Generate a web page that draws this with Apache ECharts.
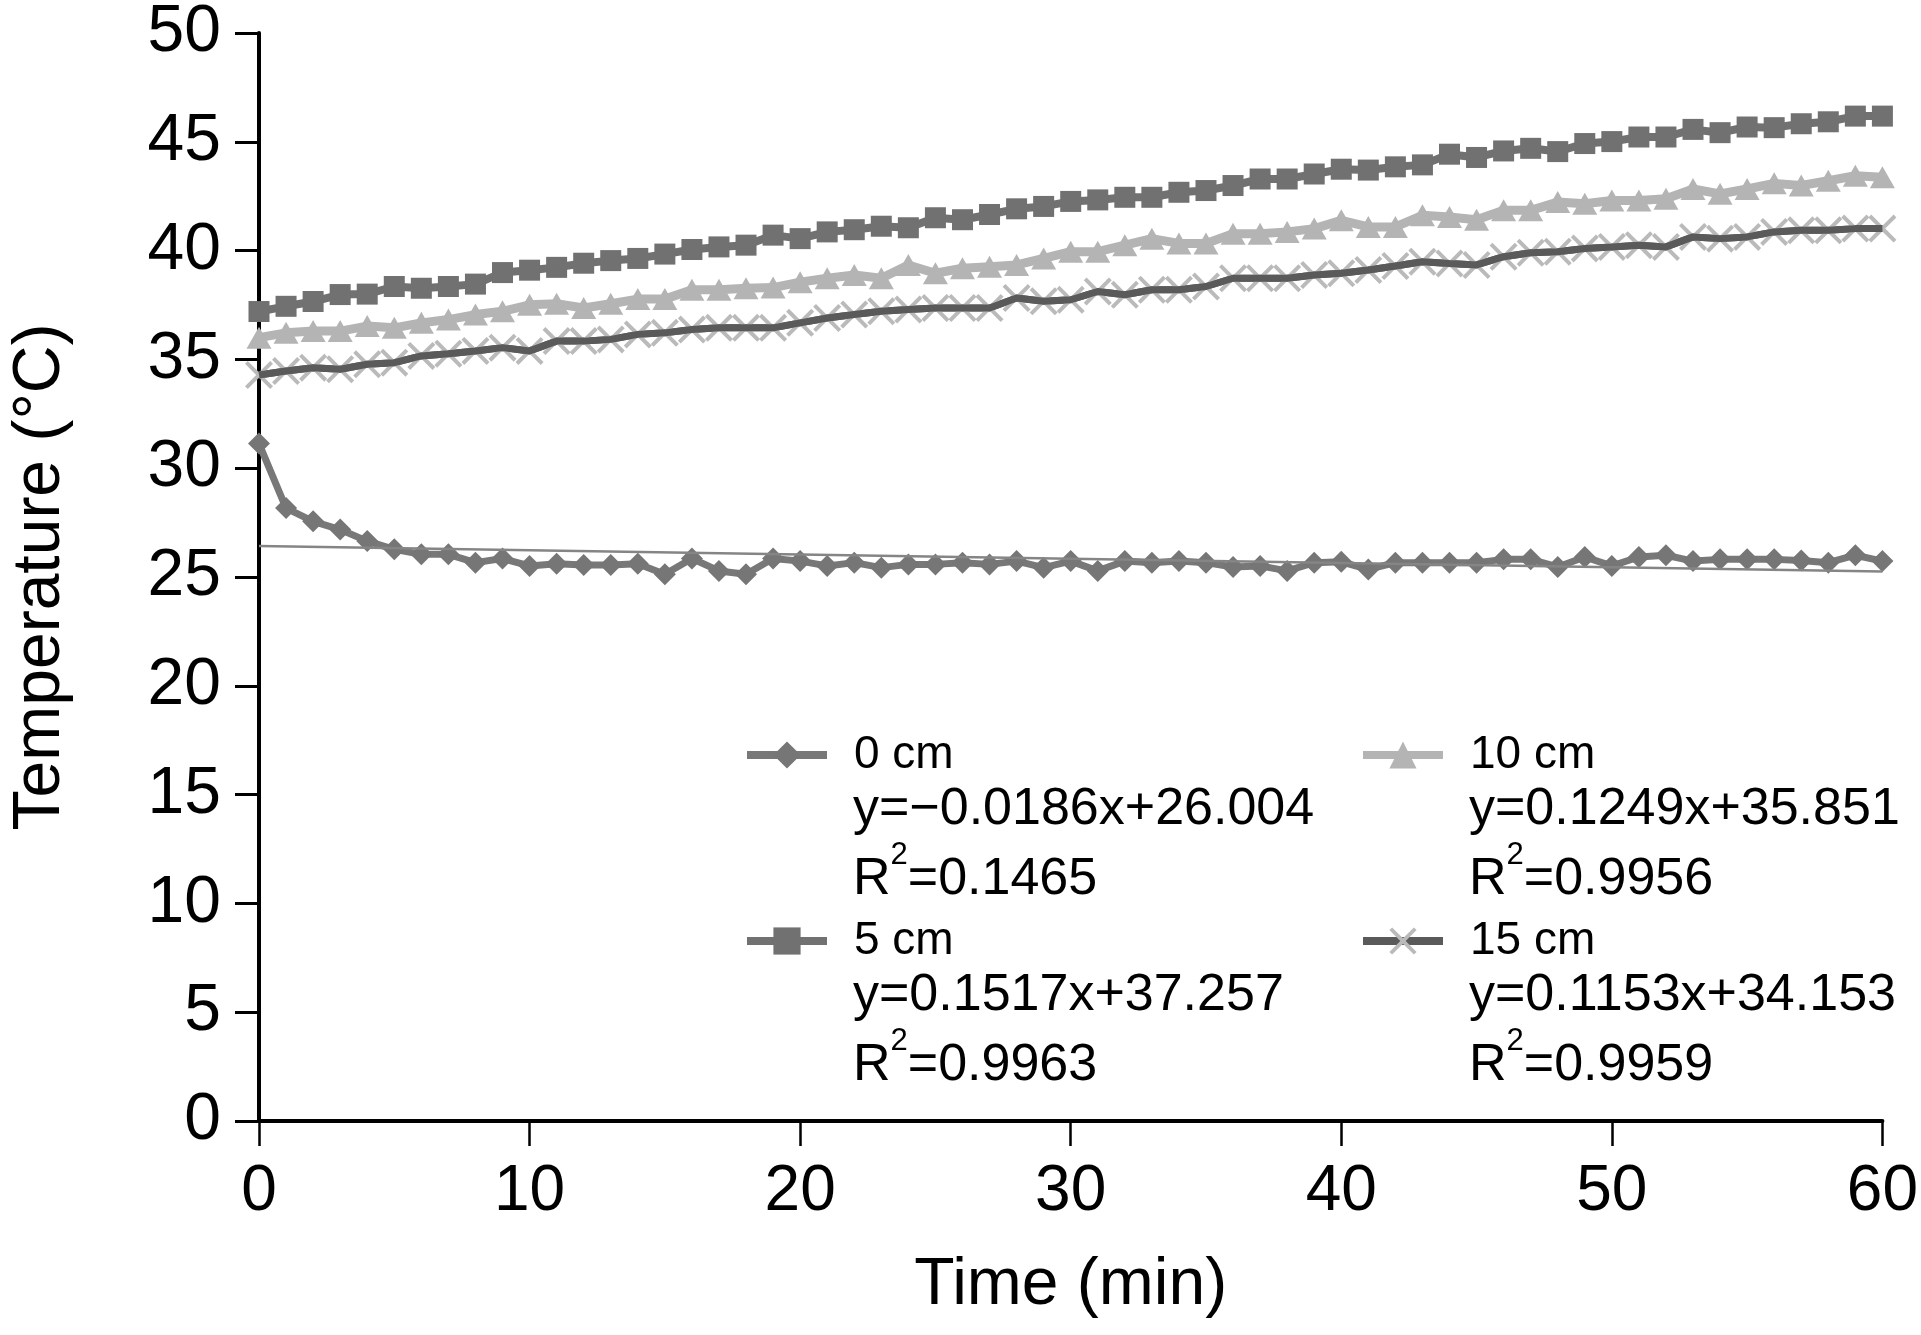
<!DOCTYPE html>
<html>
<head>
<meta charset="utf-8">
<script src="https://cdn.jsdelivr.net/npm/echarts@6/dist/echarts.min.js"></script>
<style>
html,body{margin:0;padding:0;background:#fff;}
#chart{width:1921px;height:1335px;}
</style>
</head>
<body>
<div id="chart"></div>
<script>
// ---- data ----
const times = [0,1,2,3,4,5,6,7,8,9,10,11,12,13,14,15,16,17,18,19,20,21,22,23,24,25,26,27,28,29,30,
  31,32,33,34,35,36,37,38,39,40,41,42,43,44,45,46,47,48,49,50,51,52,53,54,55,56,57,58,59,60];

const cm0 = [31.13,28.17,27.56,27.18,26.65,26.27,26.04,26.04,25.66,25.85,25.51,25.61,25.55,25.55,25.61,25.13,
  25.85,25.28,25.13,25.85,25.73,25.51,25.66,25.43,25.58,25.58,25.66,25.58,25.73,25.43,25.73,25.28,25.73,25.66,
  25.73,25.66,25.46,25.51,25.28,25.66,25.70,25.35,25.66,25.66,25.66,25.66,25.81,25.81,25.46,25.92,25.51,25.92,
  26.00,25.73,25.81,25.81,25.81,25.76,25.66,26.00,25.73];

const cm5 = [37.20,37.44,37.66,37.98,38.00,38.35,38.27,38.35,38.46,38.99,39.10,39.23,39.42,39.54,39.64,39.84,
  40.05,40.17,40.25,40.71,40.55,40.86,40.96,41.12,41.05,41.51,41.42,41.66,41.92,42.03,42.26,42.33,42.45,42.45,
  42.68,42.76,42.99,43.29,43.29,43.52,43.74,43.70,43.85,43.94,44.43,44.28,44.58,44.70,44.55,44.92,45.01,45.22,
  45.22,45.57,45.42,45.68,45.65,45.83,45.92,46.18,46.18];

const cm10 = [36.00,36.22,36.30,36.30,36.53,36.45,36.68,36.83,37.06,37.21,37.51,37.56,37.36,37.56,37.77,37.77,
  38.20,38.20,38.27,38.30,38.55,38.73,38.88,38.73,39.34,38.96,39.19,39.26,39.34,39.64,39.95,39.95,40.25,40.55,
  40.33,40.33,40.78,40.78,40.86,41.01,41.39,41.09,41.09,41.62,41.54,41.42,41.85,41.85,42.23,42.15,42.30,42.30,
  42.38,42.83,42.61,42.83,43.09,42.99,43.21,43.44,43.37];

const cm15 = [34.28,34.47,34.62,34.55,34.78,34.85,35.16,35.26,35.39,35.54,35.39,35.84,35.84,35.92,36.15,36.22,
  36.37,36.45,36.45,36.45,36.68,36.90,37.06,37.21,37.29,37.36,37.36,37.36,37.82,37.67,37.74,38.12,37.97,38.20,
  38.20,38.35,38.73,38.73,38.73,38.88,38.96,39.11,39.29,39.49,39.41,39.34,39.72,39.90,39.95,40.10,40.17,40.25,
  40.17,40.63,40.55,40.63,40.86,40.93,40.93,41.01,41.01];

// linear trend line of the 0 cm series as drawn in the picture (end points)
const trendTimes = [0, 60];
const trend0 = [26.42, 25.25];

const seriesNames = ['0 cm', '5 cm', '10 cm', '15 cm'];
const equations = ['y=\u22120.0186x+26.004', 'y=0.1517x+37.257', 'y=0.1249x+35.851', 'y=0.1153x+34.153'];
const r2Values = ['0.1465', '0.9963', '0.9956', '0.9959'];

const xTicks = [0, 60, 10];   // min, max, interval
const yTicks = [0, 50, 5];

// ---- helpers ----
function pairs(xs, ys){ return xs.map((x, i) => [x, ys[i]]); }
const FONT = 'Liberation Sans, Arial, sans-serif';
const crossPath = 'path://M0,1L1,0L5,4L9,0L10,1L6,5L10,9L9,10L5,6L1,10L0,9L4,5Z';

const chart = echarts.init(document.getElementById('chart'), null, {renderer: 'canvas'});

// legend placement (icon left, icon centre y) per entry
const legendPos = [
  {left: 743, cy: 749},   // 0 cm
  {left: 743, cy: 935},   // 5 cm
  {left: 1359, cy: 749},  // 10 cm
  {left: 1359, cy: 935}   // 15 cm
];
const legends = seriesNames.map((n, i) => ({
  data: [n],
  left: legendPos[i].left,
  top: legendPos[i].cy - 17,
  padding: 0,
  itemWidth: 80,
  itemHeight: 34,
  selectedMode: false,
  lineStyle: {width: 8},
  textStyle: {fontSize: 46, color: '#000', fontFamily: FONT, padding: [0, 0, 0, 22]}
}));

const eqGraphics = [];
seriesNames.forEach((n, i) => {
  const tx = legendPos[i].left + 110;
  const cy = legendPos[i].cy;
  eqGraphics.push({
    type: 'text', left: tx, top: cy + 35,
    style: {text: equations[i], fontSize: 52, fontFamily: FONT, fill: '#000'}
  });
  eqGraphics.push({
    type: 'text', left: tx, top: cy + 91,
    style: {
      text: '{r|R}{s|2}{r|=' + r2Values[i] + '}',
      fill: '#000',
      rich: {
        r: {fontSize: 52, fontFamily: FONT, lineHeight: 80, fill: '#000'},
        s: {fontSize: 31, fontFamily: FONT, lineHeight: 30, verticalAlign: 'top', fill: '#000'}
      }
    }
  });
});

const option = {
  animation: false,
  backgroundColor: '#fff',
  grid: {left: 257, right: 38, top: 24.5, bottom: 214, containLabel: false},
  legend: legends,
  graphic: eqGraphics,
  xAxis: {
    type: 'value', min: xTicks[0], max: xTicks[1], interval: xTicks[2],
    name: 'Time (min)', nameLocation: 'middle', nameGap: 132,
    nameTextStyle: {fontSize: 66, color: '#000', fontFamily: FONT},
    axisLine: {show: true, onZero: false, lineStyle: {color: '#000', width: 4}},
    axisTick: {show: true, length: 25, lineStyle: {color: '#000', width: 2.5}},
    axisLabel: {fontSize: 64, color: '#000', margin: 39, fontFamily: FONT},
    splitLine: {show: false}
  },
  yAxis: {
    type: 'value', min: yTicks[0], max: yTicks[1], interval: yTicks[2],
    name: 'Temperature (\u00B0C)', nameLocation: 'middle', nameGap: 185,
    nameTextStyle: {fontSize: 66, color: '#000', fontFamily: FONT},
    axisLine: {show: true, lineStyle: {color: '#000', width: 4}},
    axisTick: {show: true, length: 24, lineStyle: {color: '#000', width: 3}},
    axisLabel: {fontSize: 66, color: '#000', margin: 38, fontFamily: FONT},
    splitLine: {show: false}
  },
  series: [
    {
      name: '0 cm', type: 'line', data: pairs(times, cm0), z: 3,
      symbol: 'diamond', symbolSize: 22,
      itemStyle: {color: '#767676'},
      lineStyle: {color: '#787878', width: 7}
    },
    {
      name: 'trend 0 cm', type: 'line', data: pairs(trendTimes, trend0), z: 4, silent: true,
      symbol: 'none', lineStyle: {color: '#858585', width: 2.5}
    },
    {
      name: '5 cm', type: 'line', data: pairs(times, cm5), z: 3,
      symbol: 'rect', symbolSize: 21,
      itemStyle: {color: '#717171'},
      lineStyle: {color: '#717171', width: 8}
    },
    {
      name: '10 cm', type: 'line', data: pairs(times, cm10), z: 3,
      symbol: 'triangle', symbolSize: [25, 22],
      itemStyle: {color: '#b4b4b4'},
      lineStyle: {color: '#b4b4b4', width: 9}
    },
    {
      name: '15 cm', type: 'line', data: pairs(times, cm15), z: 3,
      symbol: crossPath, symbolSize: 28,
      itemStyle: {color: '#bababa'},
      lineStyle: {color: '#5a5a5a', width: 7}
    },
    {
      name: '15 cm', type: 'line', data: pairs(times, cm15), z: 5, silent: true,
      symbol: 'none',
      lineStyle: {color: '#5a5a5a', width: 7}
    }
  ]
};
chart.setOption(option);
</script>
</body>
</html>
